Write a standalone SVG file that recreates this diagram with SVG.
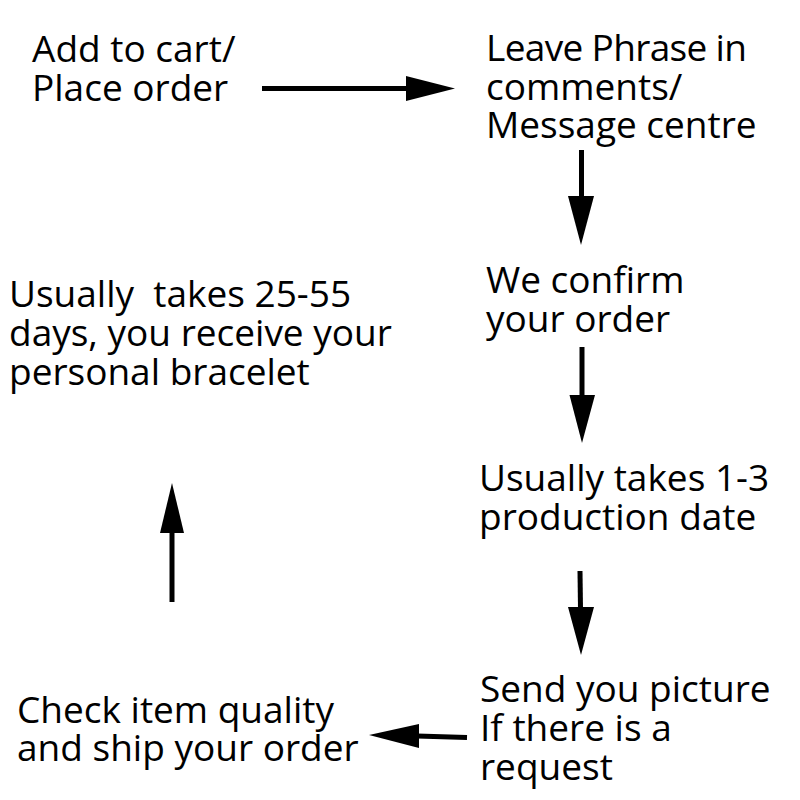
<svg xmlns="http://www.w3.org/2000/svg" width="800" height="800" viewBox="0 0 800 800">
<style>
text{font-family:"Open Sans","Noto Sans","DejaVu Sans",sans-serif;font-size:37px;fill:#000}
.ln{stroke:#000;stroke-width:5;fill:none}
.hd{fill:#000}
</style>
<rect width="800" height="800" fill="#fff"/>
<g id="node-cart"><text><tspan x="32" y="62">Add to cart/</tspan><tspan x="32" y="101">Place order</tspan></text></g>
<g id="node-phrase"><text><tspan x="486" y="61" textLength="261">Leave Phrase in</tspan><tspan x="486" y="100">comments/</tspan><tspan x="486" y="138">Message centre</tspan></text></g>
<g id="node-confirm"><text><tspan x="486" y="293">We confirm</tspan><tspan x="486" y="332">your order</tspan></text></g>
<g id="node-production"><text><tspan x="479" y="491">Usually takes 1-3</tspan><tspan x="479" y="530">production date</tspan></text></g>
<g id="node-picture"><text><tspan x="480" y="702">Send you picture</tspan><tspan x="480" y="741">If there is a</tspan><tspan x="480" y="780">request</tspan></text></g>
<g id="node-ship"><text><tspan x="17" y="723">Check item quality</tspan><tspan x="17" y="761">and ship your order</tspan></text></g>
<g id="node-receive"><text xml:space="preserve"><tspan x="9" y="307">Usually  takes 25-55</tspan><tspan x="9" y="346">days, you receive your</tspan><tspan x="9" y="385">personal bracelet</tspan></text></g>
<g id="connectors">
<line class="ln" x1="262" y1="88.5" x2="408" y2="88.5"/><polygon class="hd" points="406,76 455,88.5 406,101"/>
<line class="ln" x1="581.5" y1="150" x2="581.5" y2="198"/><polygon class="hd" points="568,196 594,196 581,245"/>
<line class="ln" x1="582" y1="347" x2="582" y2="397"/><polygon class="hd" points="569.5,395 595,395 582,443"/>
<line class="ln" x1="580" y1="571" x2="580.5" y2="609"/><polygon class="hd" points="568,607 594,607 581,655"/>
<line class="ln" x1="467" y1="737.5" x2="417" y2="736"/><polygon class="hd" points="419,724 419,748 369,735"/>
<line class="ln" x1="172" y1="602" x2="172" y2="531"/><polygon class="hd" points="160,533 184,533 172,483"/>
</g>
</svg>
